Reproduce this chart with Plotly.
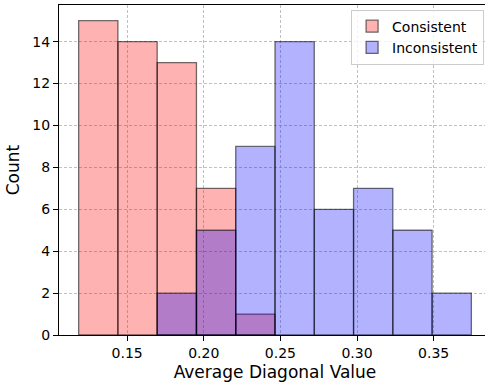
import plotly.graph_objects as go

bin_start = 0.11837
bin_width = 0.025625
consistent_counts = [15, 14, 13, 7, 1, 0, 0, 0, 0, 0]
inconsistent_counts = [0, 0, 2, 5, 9, 14, 6, 7, 5, 2]
x_ticks = [0.15, 0.20, 0.25, 0.30, 0.35]
x_tick_labels = ["0.15", "0.20", "0.25", "0.30", "0.35"]
y_ticks = [0, 2, 4, 6, 8, 10, 12, 14]

centers = [bin_start + (i + 0.5) * bin_width for i in range(len(consistent_counts))]


def nz(xs, ys):
    pts = [(x, y) for x, y in zip(xs, ys) if y > 0]
    return [p[0] for p in pts], [p[1] for p in pts]


fig = go.Figure()
cx, cy = nz(centers, consistent_counts)
ix, iy = nz(centers, inconsistent_counts)
fig.add_trace(go.Bar(
    x=cx, y=cy, width=bin_width, name="Consistent",
    marker=dict(color="rgba(255,0,0,0.3)", line=dict(color="rgba(0,0,0,0.55)", width=1.3)),
))
fig.add_trace(go.Bar(
    x=ix, y=iy, width=bin_width, name="Inconsistent",
    marker=dict(color="rgba(0,0,255,0.3)", line=dict(color="rgba(0,0,0,0.55)", width=1.3)),
))

font = "DejaVu Sans"
fig.update_layout(
    width=491, height=383,
    margin=dict(l=59, r=0, t=5, b=48),
    barmode="overlay",
    plot_bgcolor="white", paper_bgcolor="white",
    font=dict(family=font, color="black", size=14),
    legend=dict(
        x=0.984, y=0.986, xanchor="right", yanchor="top",
        bgcolor="rgba(255,255,255,0.8)", bordercolor="#cccccc", borderwidth=1,
        font=dict(size=14, family=font), tracegroupgap=0, itemwidth=30,
    ),
    showlegend=True,
)
fig.update_xaxes(
    range=[0.10556, 0.38743],
    tickvals=x_ticks, ticktext=x_tick_labels,
    ticks="outside", ticklen=5, tickwidth=1.1, tickcolor="black",
    showline=True, linecolor="black", linewidth=1.1, mirror=True,
    showgrid=True, gridcolor="rgba(176,176,176,0.8)", gridwidth=0.8, griddash="3px,2px",
    zeroline=False,
    tickfont=dict(size=14),
    title=dict(text="Average Diagonal Value", font=dict(size=17), standoff=6),
)
fig.update_yaxes(
    range=[0, 15.75],
    tickvals=y_ticks,
    ticks="outside", ticklen=5, tickwidth=1.1, tickcolor="black",
    showline=True, linecolor="black", linewidth=1.1,
    showgrid=True, gridcolor="rgba(176,176,176,0.8)", gridwidth=0.8, griddash="3px,2px",
    zeroline=False,
    tickfont=dict(size=14),
    title=dict(text="Count", font=dict(size=17), standoff=8),
)

fig.write_html(
    "out.html",
    config={"displayModeBar": False},
    post_script="document.body.style.margin='0';document.body.style.overflow='hidden';",
)
